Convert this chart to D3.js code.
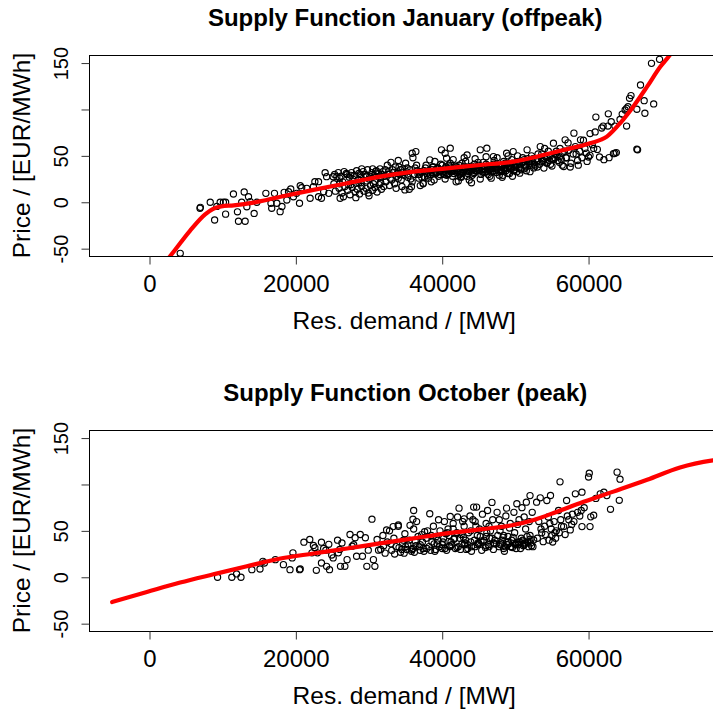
<!DOCTYPE html>
<html>
<head>
<meta charset="utf-8">
<script src="https://cdn.jsdelivr.net/npm/d3@7"></script>
<style>
  html, body { margin: 0; padding: 0; background: #fff; }
  svg { display: block; }
  text { font-family: "Liberation Sans", Arial, sans-serif; fill: #000; }
</style>
</head>
<body>
<svg id="chart" width="713" height="713"></svg>
<script>
// ---- Data -------------------------------------------------------------
// Residual demand in GW (thousands of MW) and price in EUR/MWh

const titles = ["Supply Function January (offpeak)", "Supply Function October (peak)"];
const xLabel = "Res. demand / [MW]";
const yLabel = "Price / [EUR/MWh]";

const xTicks = [0, 20000, 40000, 60000];
const yTicks = [-50, 0, 50, 100, 150];
const yTickLabels = ["-50", "0", "50", "", "150"];

// January, off-peak hours: observed points
const janDemandGW = [
  4.2, 6.9, 6.95, 8.3, 8.9, 9.2, 9.66, 10.1, 10.4, 10.4, 11.47, 12.02, 12.16, 12.6, 12.94, 13.07, 13.3, 13.53, 13.75, 14.3,
  14.67, 15.9, 16.6, 16.7, 17.08, 17.4, 17.85, 18.1, 18.4, 18.77, 19.0, 19.3, 19.67, 20.1, 20.5, 20.6, 20.8, 21.5, 21.95, 22.4,
  22.6, 23.1, 23.1, 23.5, 23.8, 24.0, 24.2, 24.5, 25.1, 25.6, 26.05,
  25.3, 25.8, 26.2, 26.6, 27.0, 27.3, 27.6, 28.0, 28.3, 28.6, 28.9, 29.2, 29.5, 29.8, 30.1, 30.4, 30.7, 31.0, 31.3, 31.6,
  31.9, 26.0, 27.8, 29.0, 30.5, 31.5, 32.2, 28.5, 30.0, 26.9, 27.5, 28.8, 29.6, 30.9, 31.8,
  25.4, 25.9, 26.3, 26.7, 27.1, 27.4, 27.7, 28.1, 28.4, 28.7, 29.0, 29.3, 29.6, 29.9, 30.2, 30.5, 30.8, 31.1, 31.4, 31.7,
  32.0, 26.5, 28.2, 30.0, 26.0, 27.2, 28.9, 30.6,
  25.2, 26.4, 27.5, 28.6, 29.7, 30.8, 31.6,
  32.3, 32.6, 32.9, 33.2, 33.5, 33.8, 34.1, 34.4, 34.7, 35.0, 35.3, 35.6, 35.9, 36.2, 36.5, 36.8, 37.1, 37.4, 37.7, 38.0,
  38.3, 38.6, 38.9, 39.2, 39.5, 39.8, 32.5, 33.0, 34.0, 34.5, 35.5, 36.0, 33.7, 37.0, 38.5, 39.0, 39.6, 35.2, 36.6, 37.9,
  34.2, 33.3, 32.8, 34.9, 35.8, 35.9, 36.4, 37.4, 33.9, 35.4, 36.9, 38.2, 39.3, 34.6, 37.6, 38.8,
  32.1, 32.7, 33.1, 33.6, 34.0, 34.3, 34.8, 35.1, 35.7, 36.3, 36.7, 37.2, 37.5, 37.8, 38.1, 38.4, 38.7, 39.1, 39.4, 39.7,
  40.2, 40.5, 40.8, 41.1, 41.4, 41.7, 42.0, 42.3, 42.6, 42.9, 43.2, 43.5, 43.8, 44.1, 44.4, 44.7, 45.0, 45.3, 45.6, 45.9,
  46.2, 46.5, 46.8, 47.1, 47.4, 47.7, 48.0, 48.3, 48.6, 48.9, 49.2, 49.5, 49.8, 40.4, 41.5, 42.2, 43.0, 43.7, 44.5, 45.2,
  46.0, 46.7, 47.5, 48.2, 49.0, 49.6, 41.0, 42.8, 44.2, 45.8, 47.0, 48.5, 42.5, 43.4, 45.2, 46.1, 47.0, 48.8, 49.7, 40.6,
  41.9, 44.0, 40.0, 40.9, 43.3, 46.4, 47.9, 49.3, 39.9, 40.4, 41.1, 41.3, 42.7, 44.8, 46.9, 48.4, 41.8, 43.9, 45.5, 47.3,
  49.1, 40.7, 42.1, 43.6, 45.1, 46.6, 48.1, 49.4,
  40.1, 40.3, 40.6, 40.9, 41.2, 41.6, 41.9, 42.1, 42.4, 42.7, 43.1, 43.4, 43.7, 44.0, 44.3, 44.6, 44.9, 45.1, 45.4, 45.7,
  46.0, 46.3, 46.6, 46.9, 47.2, 47.5, 47.8, 48.1, 48.4, 48.7, 49.0, 49.3, 49.6, 49.9,
  38.6, 39.0, 39.4, 39.8, 40.5, 41.0, 41.5, 42.0, 42.5, 43.0, 43.5, 44.0, 44.5, 45.0, 45.5, 46.0, 46.5, 47.0, 47.5, 48.0,
  48.5, 49.0, 49.5, 50.0, 50.5, 51.0, 51.5, 52.0, 40.8, 42.6, 44.4, 46.2, 48.0, 49.8, 51.2,
  50.1, 50.4, 50.7, 51.0, 51.3, 51.6, 51.9, 52.2, 52.5, 52.8, 53.1, 53.4, 53.7, 53.9, 54.2, 54.5, 54.8, 55.1, 55.2, 55.5,
  55.8, 56.1, 56.4, 56.6, 56.8, 50.6, 51.5, 52.0, 53.0, 54.0, 55.0, 56.0, 50.3, 51.2, 52.6, 53.5, 54.6, 55.7, 56.7, 50.9,
  52.4, 53.8, 55.4, 56.3, 51.8, 54.3,
  50.2, 50.5, 50.8, 51.1, 51.4, 51.7, 52.0, 52.3, 52.7, 53.0, 53.3, 53.6, 54.0, 54.4, 54.8, 55.2, 55.6, 56.0, 56.4, 56.9,
  57.0, 57.3, 57.6, 57.9, 58.0, 58.2, 58.5, 58.8, 58.9, 59.1, 59.3, 59.5, 59.8, 60.0, 60.2, 60.2, 60.5, 60.9, 61.0, 61.2,
  61.5, 62.1, 62.8, 63.4, 63.6, 63.8, 57.5, 58.6, 59.7, 57.2, 58.3, 60.7,
  62.0, 62.65, 63.1, 63.6, 62.7, 64.3, 65.0, 65.2, 65.4, 65.2, 65.6, 66.6, 66.6, 66.7, 67.1, 67.7, 68.9, 68.6, 69.7, 67.6,
  61.8, 64.6, 65.8
];
const janPrice = [
  -55, -6.5, -5.5, 0, -19.1, -4.5, 0, 0, 0, -12.8, 8.9, -10.3, -20.4, 0, 11.1, -20.4, -4.8, 6, 0.7, -12,
  0, 9.6, -1.1, -6.5, 9.6, -1.1, -10.1, -4.6, 10.7, 2.5, 11.4, 14.3, 6, 9.6, -1.1, 17.9, 15.7, 15, 4.3, 16.8,
  22.2, 22.2, 6, 4.3, 11.4, 31.9, 27.6, 9.6, 27.6, 27.6, 4.3,
  30, 32, 28, 33, 30, 27, 32, 29, 34, 31, 27, 33, 30, 35, 28, 32, 29, 34, 31, 27,
  33, 26, 25, 36, 36, 36, 35, 24, 25, 31, 29, 30, 28, 33, 30,
  12, 15, 10, 17, 13, 8, 16, 11, 14, 9, 17, 12, 15, 10, 18, 13, 16, 11, 19, 14,
  17, 6, 5, 7, 20, 19, 21, 20,
  20, 22, 19, 21, 23, 22, 21,
  22, 30, 26, 35, 20, 28, 38, 24, 32, 42, 27, 35, 22, 30, 40, 26, 33, 20, 37, 29,
  45.7, 32, 24, 36, 28, 41, 40, 43, 45, 17, 14, 48, 15, 18, 22, 44, 33, 37, 34, 31,
  30, 32, 18, 13.3, 16.8, 52.8, 54.6, 20.4, 31, 29, 30, 34, 32, 36, 27, 38,
  28, 33, 24, 38, 26, 35, 29, 33, 25, 37, 30, 27, 34, 40, 26, 30, 38, 32, 37, 30,
  30, 38, 34, 42, 28, 36, 32, 40, 27, 35, 44, 31, 38, 29, 41, 34, 37, 30, 43, 33,
  39, 28, 36, 45, 32, 40, 35, 29, 42, 37, 31, 46, 34, 25, 46, 23, 48, 24, 47, 25,
  49, 26, 48, 27, 50, 28, 36, 37, 35, 36, 38, 39, 27.6, 51, 56.5, 58.3, 49.2, 52.8, 54.6, 47.5,
  22, 21, 40, 31, 33, 35, 33, 40, 56.5, 52.8, 58.3, 33, 32, 38, 34, 36, 39, 35, 33, 37,
  38, 35, 34, 36, 35, 37, 34, 36,
  33, 36, 29, 40, 35, 31, 38, 34, 30, 42, 36, 28, 33, 39, 31, 36, 43, 34, 38, 32,
  41, 30, 37, 33, 40, 35, 29, 38, 44, 34, 31, 36, 42, 38,
  35, 31, 37, 34, 32, 38, 34, 36, 33, 39, 35, 37, 34, 40, 36, 38, 35, 41, 37, 39,
  36, 42, 38, 40, 37, 43, 39, 44, 30, 31, 32, 33, 34, 35, 36,
  38, 44, 36, 48, 40, 56.5, 42, 50, 37, 46, 52, 60, 44, 36.8, 49, 55, 41, 47, 63.7, 52,
  45, 58, 40, 38.6, 67.3, 31.4, 34, 33, 38, 58, 39, 43, 50, 46, 41, 48, 45, 50, 55, 43,
  47, 45, 48, 46, 44, 42,
  33, 41, 35, 44, 38, 47, 40, 44, 39, 45, 41, 52, 47, 43, 50, 46, 55, 49, 53, 48,
  48, 56, 42, 52, 74.5, 60, 45, 55, 67.3, 48, 66.8, 58, 44, 48.8, 50.6, 74, 62, 75.8, 91.8, 57,
  48.8, 45.9, 48.1, 52.4, 52.8, 53.5, 38, 40, 53, 64, 52, 58,
  82.1, 82.1, 86.8, 82.1, 95.3, 89.3, 99.4, 101.2, 103, 82.1, 112, 100.2, 57.1, 56.5, 126.4, 95.9, 106, 149.7, 154, 109.5,
  80, 95, 115
];

// January, off-peak hours: fitted supply function
const janCurveGW = [1.5, 2.83, 5.5, 7.6, 8.7, 9.8, 11.5, 14.2, 17.9, 22.4, 27.0, 31.5, 36.1, 40.6, 45.2, 49.7, 52.9, 56.6, 60.2, 62.5, 64.3, 66.1, 68.0, 69.8, 71.1, 72.0];
const janCurvePrice = [-70, -57.9, -31, -13, -7, -4.5, -3.3, -0.4, 6, 13.3, 20.5, 27.6, 33, 36.6, 40.2, 43.8, 49.1, 56.4, 63.6, 70.7, 85.1, 103, 124.6, 146, 158.7, 170];

// October, peak hours: observed points
const octDemandGW = [
  9.3, 11.25, 12.5, 11.9, 13.99, 15.1, 15.5, 15.7, 17.2, 18.3, 19.2, 19.6, 19.5, 20.5, 20.6, 21.1, 21.9, 22.2, 22.4, 22.8,
  22.6, 22.95, 23.5, 23.5, 23.8, 24.1, 24.2, 24.6, 24.5, 25.1, 25.7, 25.8, 26.1, 26.3, 26.7, 27.0, 27.4, 27.7, 28.1, 28.3,
  28.8, 29.1, 29.5, 29.7, 29.9, 30.4, 30.6, 30.8, 31.1, 31.3, 24.9, 26.0, 27.9,
  31.6, 31.9, 32.2, 32.5, 32.8, 33.1, 33.4, 33.7, 34.0, 34.3, 34.6, 34.9, 35.2, 35.5, 35.8, 36.1, 36.4, 36.7, 37.0, 37.3,
  37.6, 37.9, 32.0, 33.0, 34.5, 35.0, 36.0, 37.0, 35.6, 36.5, 33.5, 34.8, 36.2, 37.5, 36.1, 36.0, 32.4, 33.3, 34.0,
  34.1, 34.7, 35.3, 35.9, 36.3, 36.9, 37.4, 37.8, 37.2, 38.0,
  38.2, 38.5, 38.8, 39.1, 39.4, 39.7, 40.0, 40.3, 40.6, 40.9, 41.2, 41.5, 41.8, 42.1, 42.4, 42.7, 43.0, 43.3, 43.6, 43.9,
  44.2, 44.5, 44.8, 45.1, 45.4, 45.7, 46.0, 38.3, 41.1, 42.3, 44.3, 44.7, 39.0, 40.2, 41.0, 42.0, 43.2, 44.0, 45.0, 45.9,
  39.5, 42.8, 43.8, 45.5, 38.6, 40.8, 42.5, 44.6, 46.0, 39.3, 41.6, 43.5, 45.3, 40.5, 42.9, 44.9,
  38.4, 38.9, 39.2, 39.6, 40.1, 40.4, 40.7, 41.3, 41.7, 42.2, 42.6, 43.1, 43.5, 43.9, 44.4, 44.8, 45.2, 45.6, 41.5, 43.0, 44.5,
  46.3, 46.6, 46.8, 46.9, 47.2, 47.5, 47.8, 48.1, 48.4, 48.7, 48.8, 49.0, 49.3, 49.6, 49.9, 50.2, 50.2, 50.5, 50.8, 51.1,
  51.4, 51.5, 51.7, 52.0, 52.0, 52.3, 52.5, 52.9, 46.5, 47.0, 48.0, 49.0, 49.5, 50.0, 51.0, 51.8, 47.8, 49.8, 50.9, 48.5,
  46.2, 51.2, 48.9, 49.4, 50.4, 50.7, 51.3, 52.2, 47.4, 48.3,
  46.1, 46.4, 46.8, 47.1, 47.6, 48.2, 48.6, 49.1, 49.7, 50.1, 50.6, 51.2, 51.6, 52.1, 52.4, 46.4, 47.9, 49.2, 50.3, 51.9,
  40.0, 41.0, 42.0, 43.0, 44.0, 45.0, 46.0, 47.0, 48.0, 49.0, 50.0, 51.0, 52.0, 48.4, 49.4, 50.4, 51.4,
  53.4, 53.8, 54.3, 54.6, 54.8, 55.0, 55.3, 55.6, 55.9, 56.1, 56.3, 56.6, 57.0, 57.3, 57.5, 57.8, 58.2, 58.5, 59.1, 59.1,
  59.4, 60.0, 60.1, 60.2, 60.3, 60.7, 61.6, 62.1, 63.0, 63.9, 64.3, 64.2, 53.6, 54.0, 55.5, 56.8, 57.7, 58.8, 62.5, 61.0,
  54.5, 53.2, 55.1, 56.0, 54.9,
  53.0, 53.5, 54.1, 54.7, 55.4, 56.2, 57.1, 58.0, 59.0
];
const octPrice = [
  0, 0, 0, 3.6, 8.2, 8.9, 17.2, 15.4, 19, 13.6, 8.2, 26.3, 20.9, 8.2, 9, 37.8, 40.7, 26.3, 34.3, 7.5,
  31.8, 26.3, 37.8, 15.4, 31.1, 29.2, 11.8, 8.2, 35.5, 20.9, 40, 26.3, 11.8, 37, 11.8, 19, 46.1, 33.5, 42.6, 22.6,
  46.1, 22.6, 42.6, 11.8, 29.2, 62.6, 19, 11.8, 40.7, 29.2, 24, 30, 35,
  30, 45, 26, 38, 50, 29, 42, 33, 55, 27, 36, 47, 30, 40, 28, 52, 34, 44, 29, 38,
  49, 31, 34, 36, 30, 33, 31, 35, 56, 60, 25, 26, 27, 28, 72, 62.6, 50.9, 54.6, 56.4,
  32, 40, 35, 30, 39, 33, 31, 42, 46, 50,
  33, 45, 55, 30, 40, 50, 35, 60, 29, 45, 38, 52, 31, 65, 42, 36, 55, 30, 48, 38,
  62, 33, 45, 52, 29, 40, 58, 68.4, 65.5, 74.5, 75.6, 75.6, 28, 42, 33, 48, 40, 28, 36, 32,
  62, 60, 66, 68, 38, 52, 30, 55, 44, 36, 41, 35, 39, 47, 43, 37,
  29, 36, 44, 33, 38, 31, 48, 35, 42, 33, 46, 37, 31, 50, 40, 35, 44, 38, 58, 63, 60,
  35, 50, 80.7, 62, 40, 70, 33, 55, 45, 66, 74.5, 38, 58, 32, 48, 79.2, 36, 62, 42, 34,
  52, 80.9, 38, 88, 45, 70, 40.2, 80.9, 42, 30, 37, 44, 40, 35, 40, 33, 62, 70, 75, 28,
  72, 65, 35, 33, 38, 31, 36, 34, 36, 43,
  48, 33, 42, 36, 45, 40, 33, 36, 43, 31, 38, 35, 44, 37, 33, 55, 50, 53, 57, 60,
  31, 34, 32, 35, 33, 36, 34, 37, 35, 38, 36, 39, 41, 31, 33, 35, 37,
  85.6, 38.4, 82.7, 40, 88.1, 45, 60, 50, 72, 102.8, 55, 54.6, 82.7, 62, 51, 68, 89.9, 70, 91.7, 54.6,
  75, 108, 112.2, 54.6, 65.1, 66.9, 89.9, 91.7, 73.2, 113.3, 105.7, 82.9, 48, 55, 42, 46, 57, 66, 88, 85,
  65, 60, 38, 48, 52,
  42, 52, 46, 58, 48, 62, 66, 60, 72
];

// October, peak hours: fitted supply function
const octCurveGW = [-5.1, -0.36, 4.19, 8.74, 13.3, 17.9, 22.4, 27.0, 31.5, 36.1, 40.6, 45.2, 49.7, 52.5, 55.7, 58.8, 63.4, 68.0, 72.5, 77.0, 79.0];
const octCurvePrice = [-26.7, -15.9, -5.7, 3.2, 11.9, 20.2, 25.6, 31, 36.5, 41.9, 47.3, 51.6, 56.3, 61.7, 70.7, 79.8, 92.3, 105, 118.3, 125.9, 128];

const panels = [
  { title: titles[0], demand: janDemandGW, price: janPrice, curveX: janCurveGW, curveY: janCurvePrice },
  { title: titles[1], demand: octDemandGW, price: octPrice, curveX: octCurveGW, curveY: octCurvePrice }
];

// ---- Layout ------------------------------------------------------------
const svg = d3.select("#chart");
const plotLeft = 89.5, plotRight = 721;
const plotHeight = 201;
const panelTops = [55, 430];

const x = d3.scaleLinear().domain([-8200, 78100]).range([plotLeft, plotRight]);

panels.forEach((p, i) => {
  const top = panelTops[i];
  const bottom = top + plotHeight;
  const y = d3.scaleLinear().domain([-57.9, 158.7]).range([bottom, top]);
  const g = svg.append("g");

  const clipId = "clip" + i;
  svg.append("clipPath").attr("id", clipId)
    .append("rect")
    .attr("x", plotLeft).attr("y", top)
    .attr("width", plotRight - plotLeft).attr("height", plotHeight);

  // points
  const pts = p.demand.map((d, k) => ({ mw: d * 1000, price: p.price[k] }));
  g.append("g").attr("clip-path", `url(#${clipId})`)
    .selectAll("circle").data(pts).join("circle")
    .attr("cx", d => x(d.mw))
    .attr("cy", d => y(d.price))
    .attr("r", 3.1)
    .attr("fill", "none")
    .attr("stroke", "#000")
    .attr("stroke-width", 1.15);

  // fitted curve
  const curve = p.curveX.map((d, k) => ({ mw: d * 1000, price: p.curveY[k] }));
  g.append("path").attr("clip-path", `url(#${clipId})`)
    .datum(curve)
    .attr("d", d3.line().x(d => x(d.mw)).y(d => y(d.price)).curve(d3.curveMonotoneX))
    .attr("fill", "none")
    .attr("stroke", "#ff0000")
    .attr("stroke-width", 4.2)
    .attr("stroke-linecap", "round");

  // frame
  g.append("rect")
    .attr("x", plotLeft).attr("y", top + 0.5)
    .attr("width", plotRight - plotLeft + 5).attr("height", plotHeight)
    .attr("fill", "none").attr("stroke", "#000").attr("stroke-width", 1);

  // x axis
  const xAxis = d3.axisBottom(x).tickValues(xTicks).tickSize(8).tickSizeOuter(0).tickFormat(d3.format("d"));
  const gx = g.append("g").attr("transform", `translate(0,${bottom + 0.5})`).call(xAxis);
  gx.select(".domain").remove();
  gx.selectAll(".tick line").attr("stroke", "#333");
  gx.selectAll(".tick text")
    .attr("y", 35).attr("dy", 0)
    .attr("font-size", 24)
    .attr("fill", "#000")
    .attr("font-family", "Liberation Sans, Arial, sans-serif");

  // y axis
  const yAxis = d3.axisLeft(y).tickValues(yTicks).tickSize(8).tickSizeOuter(0)
    .tickFormat((d, k) => yTickLabels[k]);
  const gy = g.append("g").attr("transform", `translate(${plotLeft},0)`).call(yAxis);
  gy.select(".domain").remove();
  gy.selectAll(".tick line").attr("stroke", "#333");
  gy.selectAll(".tick text")
    .attr("x", 0).attr("dy", 0)
    .attr("transform", "translate(-22,0) rotate(-90)")
    .attr("text-anchor", "middle")
    .attr("font-size", 20)
    .attr("fill", "#000")
    .attr("font-family", "Liberation Sans, Arial, sans-serif");

  // title
  const cx = (plotLeft + plotRight) / 2;
  g.append("text")
    .attr("x", cx).attr("y", top - 29)
    .attr("text-anchor", "middle")
    .attr("font-size", 24).attr("font-weight", "bold")
    .text(p.title);

  // axis titles
  g.append("text")
    .attr("x", cx - 1).attr("y", bottom + 72.5)
    .attr("text-anchor", "middle")
    .attr("font-size", 24.5)
    .text(xLabel);

  g.append("text")
    .attr("transform", `translate(30,${(top + bottom) / 2}) rotate(-90)`)
    .attr("text-anchor", "middle")
    .attr("font-size", 24.5)
    .text(yLabel);
});
</script>
</body>
</html>
